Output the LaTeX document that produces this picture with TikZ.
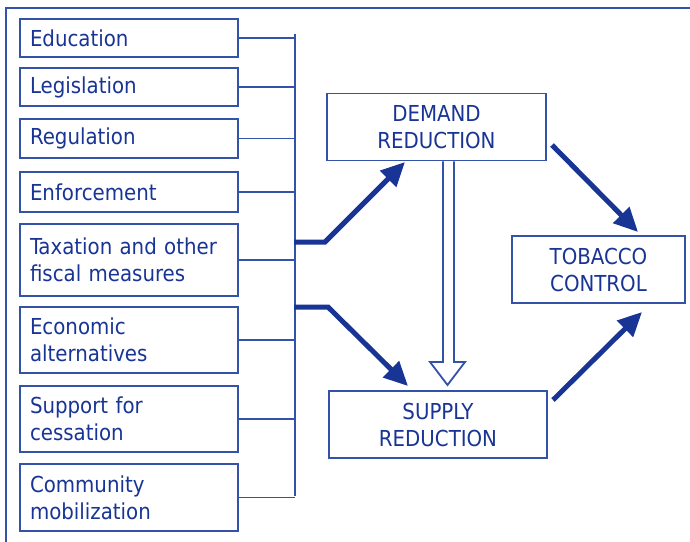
\documentclass[tikz,border=0pt]{standalone}
\usepackage{fontspec}
\setmainfont{DejaVu Sans Condensed}
\usetikzlibrary{arrows.meta,positioning}
\definecolor{navy}{RGB}{24,52,148}
\definecolor{boxblue}{RGB}{52,82,168}

\begin{document}
\begin{tikzpicture}[x=1pt,y=-1pt,font=\fontsize{22}{27}\selectfont,
  measure/.style={draw=boxblue,line width=1.6pt,text=navy,text width=198pt,inner xsep=10pt,inner ysep=0pt,align=left},
  target/.style={draw=boxblue,line width=1.6pt,text=navy,minimum height=67pt,align=center,inner sep=0pt},
  link/.style={draw=boxblue,line width=1.3pt},
  push/.style={draw=navy,line width=5pt,-{Triangle[length=24pt,width=22pt]}}]
\useasboundingbox (0,0) rectangle (690,541);
% outer frame, open to the right and bottom
\draw[boxblue,line width=1.6pt] (6,545) -- (6,8) -- (695,8);

% measures
\node[measure,minimum height=38pt] (edu) at (129,38)    {Education};
\node[measure,minimum height=38pt] (leg) at (129,87)    {Legislation};
\node[measure,minimum height=39pt] (reg) at (129,138.5) {Regulation};
\node[measure,minimum height=40pt] (enf) at (129,192)   {Enforcement};
\node[measure,minimum height=72pt] (tax) at (129,260)   {Taxation and other\\fiscal measures};
\node[measure,minimum height=66pt] (eco) at (129,340)   {Economic\\alternatives};
\node[measure,minimum height=66pt] (sup) at (129,419)   {Support for\\cessation};
\node[measure,minimum height=67pt] (com) at (129,497.5) {Community\\mobilization};

% reductions and goal
\node[target,minimum width=219pt] (demand) at (436.5,127) {DEMAND\\REDUCTION};
\node[target,minimum width=218pt] (supply) at (438,424.5) {SUPPLY\\REDUCTION};
\node[target,minimum width=173pt] (goal)   at (598.5,269.5) {TOBACCO\\CONTROL};

% bus
\coordinate (bustop) at (295,34);
\coordinate (busbot) at (295,496);
\draw[link] (bustop) -- (busbot);
\foreach \n in {edu,leg,reg,enf,tax,eco,sup,com}
  \draw[link] (\n.east) -- (\n.east -| bustop);

% thick arrows
\coordinate (up0) at (294,242);
\coordinate (up1) at (325,242);
\coordinate (up2) at (405,162);
\coordinate (dn0) at (294,307);
\coordinate (dn1) at (328,307);
\coordinate (dn2) at (408,386);
\draw[push] (up0) -- (up1) -- (up2);
\draw[push] (dn0) -- (dn1) -- (dn2);
\coordinate (dg0) at (552,145);
\coordinate (dg1) at (638,232);
\coordinate (sg0) at (553,400);
\coordinate (sg1) at (642,312);
\draw[push] (dg0) -- (dg1);
\draw[push] (sg0) -- (sg1);

% hollow arrow demand -> supply
\draw[boxblue,line width=1.8pt,fill=white,line join=miter]
  (demand.south -| 443,0) -- (443,362) -- (430,362) -- (447.5,385)
  -- (465,362) -- (454,362) -- (demand.south -| 454,0);
\end{tikzpicture}
\end{document}
